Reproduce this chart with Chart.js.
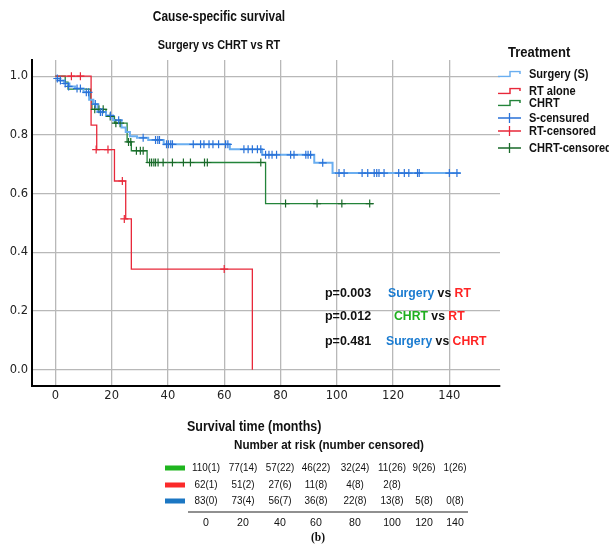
<!DOCTYPE html>
<html>
<head>
<meta charset="utf-8">
<script src="https://cdn.jsdelivr.net/npm/chart.js@4/dist/chart.umd.min.js"></script>
<style>
html, body { margin: 0; padding: 0; background: #fff; }
#wrap { position: relative; width: 609px; height: 544px; overflow: hidden;
        font-family: "Liberation Sans", Arial, sans-serif; color: #111; }
#km { position: absolute; left: 0; top: 0; }
.t { position: absolute; white-space: nowrap; line-height: 1; }
</style>
</head>
<body>
<div id="wrap"><canvas id="km" width="609" height="544"></canvas></div>
<script>
// Kaplan-Meier steps (months, survival)
const sTime = [0, 1.5, 3, 5, 7, 10, 12, 13.5, 15, 18, 20.5, 23.5, 25, 26.5, 29, 33, 38.5, 62, 73.5, 92, 98.5, 144];
const sSurv = [0.992, 0.985, 0.975, 0.965, 0.958, 0.945, 0.92, 0.905, 0.878, 0.866, 0.85, 0.825, 0.81, 0.795, 0.79, 0.783, 0.768, 0.751, 0.732, 0.705, 0.67, 0.67];

const rTime = [0, 12.7, 14.7, 21, 25, 27, 70];
const rSurv = [1.0, 0.833, 0.75, 0.643, 0.514, 0.343, 0];

const cTime = [0, 3.5, 4.5, 12.5, 13, 18, 21, 25.5, 27, 32.6, 74.7, 113];
const cSurv = [1.0, 0.98, 0.956, 0.92, 0.887, 0.863, 0.84, 0.776, 0.746, 0.706, 0.566, 0.566];

// censored observations
const sCensT = [0.7, 1.8, 3.5, 4.7, 7.7, 8.9, 11, 11.8, 14.2, 16, 16.7, 19.6, 22.5, 31.2, 35.6, 36.4, 37,
                39.5, 40.2, 41, 41.6, 49, 51.6, 52.8, 54.6, 56, 58, 60.5, 61.3, 67, 68.5, 70, 71.8, 73,
                74.7, 75.9, 77, 78.6, 83.6, 84.8, 89, 89.8, 90.7, 95, 100.8, 102.6, 109, 111, 113.3, 114.2,
                115, 116.8, 122, 124, 125.6, 128.7, 129.3, 140, 142.7];
const sCensS = [0.992, 0.985, 0.975, 0.965, 0.958, 0.958, 0.945, 0.945, 0.905, 0.878, 0.878, 0.866, 0.85, 0.79, 0.783, 0.783, 0.783,
                0.768, 0.768, 0.768, 0.768, 0.768, 0.768, 0.768, 0.768, 0.768, 0.768, 0.768, 0.768, 0.751, 0.751, 0.751, 0.751, 0.751,
                0.732, 0.732, 0.732, 0.732, 0.732, 0.732, 0.732, 0.732, 0.732, 0.705, 0.67, 0.67, 0.67, 0.67, 0.67, 0.67,
                0.67, 0.67, 0.67, 0.67, 0.67, 0.67, 0.67, 0.67, 0.67];

const rCensT = [5.7, 8.9, 14.5, 18.7, 23.8, 24.5, 60];
const rCensS = [1.0, 1.0, 0.75, 0.75, 0.643, 0.514, 0.343];

const cCensT = [14, 15.5, 17, 19.5, 21.5, 23, 26, 26.8, 28.8, 30.2, 31.2, 33.5, 34.2, 35, 35.6, 36.5, 38.3,
                41.6, 45.5, 48, 53, 54, 73, 81.8, 93, 101.8, 111.7];
const cCensS = [0.887, 0.887, 0.887, 0.863, 0.84, 0.84, 0.776, 0.776, 0.746, 0.746, 0.746, 0.706, 0.706, 0.706, 0.706, 0.706, 0.706,
                0.706, 0.706, 0.706, 0.706, 0.706, 0.706, 0.566, 0.566, 0.566, 0.566];

const xTicks = [0, 20, 40, 60, 80, 100, 120, 140];
const yTicks = [0, 0.2, 0.4, 0.6, 0.8, 1.0];

// number at risk table
const riskTimes = [0, 20, 40, 60, 80, 100, 120, 140];
const riskCHRT = ['110(1)', '77(14)', '57(22)', '46(22)', '32(24)', '11(26)', '9(26)', '1(26)'];
const riskRT = ['62(1)', '51(2)', '27(6)', '11(8)', '4(8)', '2(8)'];
const riskS = ['83(0)', '73(4)', '56(7)', '36(8)', '22(8)', '13(8)', '5(8)', '0(8)'];

const BLUE_LINE = '#6aaef0', BLUE_MARK = '#2a72d8';
const RED = '#e8283a';
const GREEN_LINE = '#23843a', GREEN_MARK = '#1a6a2a';

const xy = (ts, ys) => ts.map((t, i) => ({x: t, y: ys[i]}));

const curve = (label, ts, ys, color, w) => ({
    label, data: xy(ts, ys), borderColor: color, borderWidth: w,
    stepped: true, pointRadius: 0, fill: false, order: 2
});
const marks = (label, ts, ys, color) => ({
    label, data: xy(ts, ys), showLine: false, pointStyle: 'cross',
    pointRadius: 4, pointBorderWidth: 1.2, borderColor: color, backgroundColor: color, order: 1
});

const ctx = document.getElementById('km').getContext('2d');
const km = new Chart(ctx, {
    type: 'line',
    data: {
        datasets: [
            curve('Surgery (S)', sTime, sSurv, BLUE_LINE, 2),
            curve('RT alone', rTime, rSurv, RED, 1.3),
            curve('CHRT', cTime, cSurv, GREEN_LINE, 1.3),
            marks('S-censured', sCensT, sCensS, BLUE_MARK),
            marks('RT-censored', rCensT, rCensS, RED),
            marks('CHRT-censored', cCensT, cCensS, GREEN_MARK)
        ]
    },
    options: {
        responsive: false,
        animation: false,
        devicePixelRatio: 1,
        layout: { padding: { left: 0, top: 60, right: 109, bottom: 134 } },
        plugins: { legend: { display: false }, tooltip: { enabled: false } },
        scales: {
            x: {
                type: 'linear', min: -8.3, max: 158,
                afterBuildTicks: s => { s.ticks = xTicks.map(v => ({value: v})); },
                afterFit: s => { s.height = 24; },
                grid: { color: '#b8b8b8', lineWidth: 1.3, drawTicks: false },
                border: { color: '#000', width: 2 },
                ticks: { padding: 3, color: '#222', maxRotation: 0,
                         font: { family: 'DejaVu Sans', size: 11.5 } }
            },
            y: {
                type: 'linear', min: -0.055, max: 1.055,
                afterBuildTicks: s => { s.ticks = yTicks.map(v => ({value: v})); },
                afterFit: s => { s.width = 32; },
                grid: { color: '#b8b8b8', lineWidth: 1.3, drawTicks: false },
                border: { color: '#000', width: 2 },
                ticks: { padding: 4, color: '#222', callback: v => v.toFixed(1),
                         font: { family: 'DejaVu Sans', size: 11.5 } }
            }
        }
    }
});

// text overlays
const wrap = document.getElementById('wrap');
function put(html, x, y, css, centered, sx) {
    const d = document.createElement('div');
    d.className = 't';
    d.innerHTML = html;
    d.style.cssText += css;
    d.style.left = x + 'px';
    d.style.top = y + 'px';
    const k = sx ? ` scaleX(${sx})` : '';
    d.style.transformOrigin = centered ? '50% 50%' : '0 50%';
    d.style.transform = (centered ? 'translate(-50%,-50%)' : 'translateY(-50%)') + k;
    wrap.appendChild(d);
    return d;
}

put('Cause-specific survival', 219, 16, 'font-weight:bold;font-size:14px;', true, 0.85);
put('Surgery vs CHRT vs RT', 219, 44, 'font-weight:bold;font-size:13px;', true, 0.84);

// legend
put('Treatment', 508, 52, 'font-weight:bold;font-size:14px;', false, 0.93);
const stepIcon = c => `<svg width="24" height="7" style="display:block"><path d="M0 6H12V1H22V3.5" fill="none" stroke="${c}" stroke-width="1.5"/></svg>`;
const crossIcon = c => `<svg width="24" height="11" style="display:block"><path d="M0 5.5H23M11.5 0.5V10.5" fill="none" stroke="${c}" stroke-width="1.3"/></svg>`;
const legendRows = [
    ['Surgery (S)', stepIcon(BLUE_LINE), 74],
    ['RT alone', stepIcon(RED), 90.5],
    ['CHRT', stepIcon(GREEN_LINE), 102.5],
    ['S-censured', crossIcon(BLUE_MARK), 118],
    ['RT-censored', crossIcon(RED), 131],
    ['CHRT-censored', crossIcon(GREEN_MARK), 147.5]
];
legendRows.forEach(([label, icon, y]) => {
    put(icon, 498, y, '');
    put(label, 529, y, 'font-weight:bold;font-size:12px;', false, 0.92);
});

// p-values
const pStyle = 'font-weight:bold;font-size:13px;';
const cB = '#1a7bd0', cG = '#1faf1f', cR = '#ff2424';
put('p=0.003', 325, 292, pStyle, false, 0.96);
put(`<span style="color:${cB}">Surgery</span> vs <span style="color:${cR}">RT</span>`, 388, 292, pStyle, false, 0.94);
put('p=0.012', 325, 315, pStyle, false, 0.96);
put(`<span style="color:${cG}">CHRT</span> vs <span style="color:${cR}">RT</span>`, 394, 315, pStyle, false, 0.94);
put('p=0.481', 325, 340, pStyle, false, 0.96);
put(`<span style="color:${cB}">Surgery</span> vs <span style="color:${cR}">CHRT</span>`, 386, 340, pStyle, false, 0.94);

// number at risk table
put('Survival time (months)', 187, 426, 'font-weight:bold;font-size:14px;', false, 0.89);
put('Number at risk (number censored)', 234, 445, 'font-weight:bold;font-size:12.5px;', false, 0.93);
const riskCols = [206, 243, 280, 316, 355, 392, 424, 455];
const numStyle = 'font-size:11.5px;color:#111;';
const riskRows = [
    [riskCHRT, '#1fb51f', 468],
    [riskRT, '#fb2a2a', 485],
    [riskS, '#1c77c3', 501]
];
riskRows.forEach(([vals, col, y]) => {
    put(`<div style="width:20px;height:5px;background:${col}"></div>`, 165, y, '');
    vals.forEach((v, i) => put(v, riskCols[i], y, numStyle, true, 0.86));
});
put('<div style="width:280px;height:1px;background:#222"></div>', 188, 512, '');
riskTimes.forEach((t, i) => put(String(t), riskCols[i], 523, numStyle, true, 0.92));
put('(b)', 318, 538, 'font-family:\'Liberation Serif\',serif;font-weight:bold;font-size:11.5px;', true);
</script>
</body>
</html>
